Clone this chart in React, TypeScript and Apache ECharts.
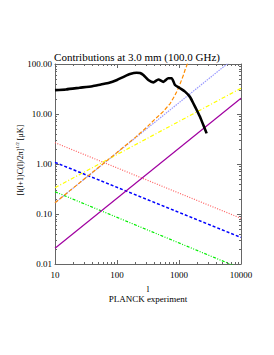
import React, { useEffect, useRef } from "react";
import * as echarts from "echarts";

const cmbL = [10, 15, 25, 40, 55, 75, 100, 130, 162, 207, 235, 266, 320, 386, 465, 559, 673, 762, 862, 1038, 1250, 1500, 1700, 1930, 2180, 2470, 2790];
const cmbV = [30, 31, 33.5, 36, 39, 42, 48, 56, 63, 67, 66, 60, 48, 43, 49, 44, 52, 52, 38, 32.7, 28, 22, 16.4, 12, 8.8, 6.0, 4.1];

const noiseL = [10, 100, 200, 300, 410, 550, 716, 850, 918, 1000, 1100, 1180, 1250, 1310, 1360, 1450];
const noiseV = [0.168, 1.7, 3.45, 5.4, 7.9, 11, 16, 23, 28, 35, 48, 60, 76, 88, 100, 130];

const lineEnds = [10, 10000];
const pointSrc = [0.168, 168];
const yellowV = [0.336, 32.7];
const purpleV = [0.0206, 20.6];
const redV = [2.67, 0.082];
const blueV = [1.08, 0.034];
const greenV = [0.279, 0.0081];

const xTicks = ["10", "100", "1000", "10000"];
const yTicks = ["0.01", "0.10", "1.00", "10.00", "100.00"];

const FONT = "'Liberation Serif', 'DejaVu Serif', serif";
const AX = "#666";

function pairs(xs: number[], ys: number[]) {
  return xs.map((x, i) => [x, ys[i]]);
}

export default function App() {
  const ref = useRef<HTMLDivElement>(null);
  useEffect(() => {
    if (!ref.current) return;
    const chart = echarts.init(ref.current, undefined, { renderer: "svg" });
    const xBase = (pos: string, labels: boolean) => ({
      type: "log",
      logBase: 10,
      min: 10,
      max: 10000,
      position: pos,
      splitNumber: 3,
      axisLine: { show: true, lineStyle: { color: AX, width: 1 } },
      axisTick: { show: true, inside: true, length: 4, lineStyle: { color: AX } },
      minorTick: { show: true, splitNumber: 9, length: 2, lineStyle: { color: AX } },
      splitLine: { show: false },
      axisLabel: {
        show: labels,
        margin: 6,
        color: "#000",
        fontFamily: FONT,
        fontSize: 9,
        formatter: (v: number) => {
          const i = Math.round(Math.log10(v)) - 1;
          return xTicks[i] ?? "";
        },
      },
    });
    const yBase = (pos: string, labels: boolean) => ({
      type: "log",
      logBase: 10,
      min: 0.01,
      max: 100,
      position: pos,
      splitNumber: 4,
      axisLine: { show: true, lineStyle: { color: AX, width: 1 } },
      axisTick: { show: true, inside: true, length: 4, lineStyle: { color: AX } },
      minorTick: { show: true, splitNumber: 9, length: 2, lineStyle: { color: AX } },
      splitLine: { show: false },
      axisLabel: {
        show: labels,
        margin: 3,
        color: "#000",
        fontFamily: FONT,
        fontSize: 9,
        formatter: (v: number) => {
          const i = Math.round(Math.log10(v)) + 2;
          return yTicks[i] ?? "";
        },
      },
    });
    const mk = (name: string, data: number[][], color: string, type: any, width = 1.2, smooth: any = false) => ({
      name,
      type: "line",
      data,
      showSymbol: false,
      symbol: "none",
      smooth,
      clip: true,
      lineStyle: { color, width, type },
      z: 2,
    });
    chart.setOption({
      animation: false,
      title: {
        text: "Contributions at 3.0 mm (100.0 GHz)",
        left: "center",
        top: 51,
        padding: 0,
        textStyle: { fontFamily: FONT, fontSize: 11, fontWeight: "normal", color: "#000" },
      },
      grid: { left: 55, right: 33, top: 64, bottom: 91, containLabel: false },
      xAxis: [
        {
          ...xBase("bottom", true),
          name: "l\nPLANCK experiment",
          nameLocation: "middle",
          nameGap: 11,
          nameTextStyle: { fontFamily: FONT, fontSize: 9, color: "#000", lineHeight: 10, verticalAlign: "top" },
        },
        xBase("top", false),
      ],
      yAxis: [yBase("left", true), yBase("right", false)],
      graphic: [
        {
          type: "text",
          x: 20,
          y: 160,
          rotation: Math.PI / 2,
          style: {
            text: "{a|[l(l+1)C(l)/2π]}{s|1/2}{a| [μK]}",
            align: "center",
            verticalAlign: "middle",
            rich: {
              a: { fontFamily: FONT, fontSize: 8, fill: "#000" },
              s: { fontFamily: FONT, fontSize: 5, fill: "#000", verticalAlign: "top", padding: [0, 0, 5, 0] },
            },
          },
        },
      ],
      series: [
        mk("red", pairs(lineEnds, redV), "#ff6060", [1, 1.5]),
        mk("blue", pairs(lineEnds, blueV), "#0000ff", [3, 2], 1.5),
        mk("green", pairs(lineEnds, greenV), "#00ee00", [3, 1.5, 1, 1.5, 1, 1.5]),
        mk("purple", pairs(lineEnds, purpleV), "#a000a0", "solid"),
        mk("yellow", pairs(lineEnds, yellowV), "#ffff00", [4, 2, 1, 2]),
        mk("ps", pairs(lineEnds, pointSrc), "#9999ff", [1.5, 1]),
        mk("noise", pairs(noiseL, noiseV), "#ff8c00", [4, 2], 1.2, false),
        { ...mk("cmb", pairs(cmbL, cmbV), "#000000", "solid", 2.6, 0.2), z: 3 },
      ],
    });
    return () => chart.dispose();
  }, []);
  return <div ref={ref} style={{ width: 274, height: 355, position: "absolute", left: 0, top: 0 }} />;
}
